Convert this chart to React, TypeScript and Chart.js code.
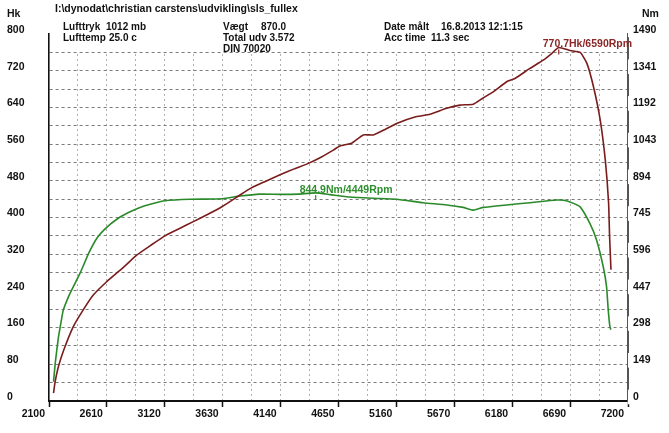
import React, { useEffect, useRef } from 'react';
import { Chart, registerables } from 'chart.js';

Chart.register(...registerables);

// ---- data read from the dyno sheet ----
const powerRpm = [2140, 2152, 2182, 2230, 2314, 2400, 2490, 2608, 2750, 2872, 3000, 3122, 3250, 3371, 3500, 3626, 3782, 3879, 4000, 4135, 4260, 4384, 4500, 4604, 4663, 4766, 4868, 4956, 5060, 5162, 5338, 5455, 5602, 5720, 5837, 5920, 6013, 6131, 6204, 6336, 6453, 6530, 6590, 6691, 6779, 6838, 6896, 6955, 7000, 7029, 7038, 7050];
const powerHk = [17, 39, 74, 111, 162, 198, 231, 260, 290, 318, 340, 360, 376, 391, 407, 424, 449, 464, 478, 493, 506, 518, 532, 547, 556, 562, 580, 580, 592, 605, 620, 625, 638, 645, 647, 660, 674, 696, 703, 725, 743, 758, 770.7, 764, 760, 736, 685, 613, 525, 432, 358, 286];

const torqueRpm = [2140, 2155, 2182, 2210, 2226, 2285, 2373, 2450, 2520, 2608, 2710, 2800, 2901, 3000, 3122, 3342, 3626, 3782, 3958, 4135, 4296, 4449, 4575, 4750, 4956, 5162, 5396, 5602, 5749, 5837, 5925, 6131, 6336, 6571, 6659, 6776, 6864, 6923, 6982, 7011, 7026, 7041, 7050];
const torqueNm = [78, 154, 255, 330, 369, 437, 518, 600, 660, 705, 742, 765, 786, 800, 813, 819, 821, 832, 840, 839, 840, 844.9, 838, 828, 823, 819, 805, 796, 786, 775, 786, 796, 805, 816, 813, 789, 721, 654, 545, 464, 369, 300, 290];

const rpmTickLabels = [2100, 2610, 3120, 3630, 4140, 4650, 5160, 5670, 6180, 6690, 7200];
const hkTickLabels = [0, 80, 160, 240, 320, 400, 480, 560, 640, 720, 800];
const nmTickLabels = [0, 149, 298, 447, 596, 745, 894, 1043, 1192, 1341, 1490];

const peakPowerRpm = 6590;
const peakPowerHk = 770.7;
const peakPowerLabel = '770.7Hk/6590Rpm';
const peakTorqueRpm = 4449;
const peakTorqueNm = 844.9;
const peakTorqueLabel = '844.9Nm/4449Rpm';

const FAMILY = '"Liberation Sans", Arial, sans-serif';
const RED = '#7a1c1c';
const RED_TXT = '#8c2626';
const GREEN = '#2a8a2a';
const GREEN_TXT = '#2f8f2f';
const GRID_H = '#7a7a7a';
const GRID_V = '#b0b0b0';

const tickFont = { family: FAMILY, size: 10.5, weight: 'bold' as const };

const Txt = ({ x, y, size = 10, color = '#111', children }: { x: number; y: number; size?: number; color?: string; children: React.ReactNode }) => (
  <div
    style={{
      position: 'absolute',
      left: x,
      top: y - 6,
      lineHeight: '12px',
      font: `bold ${size}px ${FAMILY}`,
      color,
      whiteSpace: 'pre',
    }}
  >
    {children}
  </div>
);

export default function App() {
  const ref = useRef<HTMLCanvasElement | null>(null);

  useEffect(() => {
    document.body.style.margin = '0';
    const canvas = ref.current;
    if (!canvas) return;

    const peakPlugin = {
      id: 'peaks',
      beforeDatasetsDraw(chart: any) {
        const { ctx, chartArea, scales } = chart;
        const yCut = scales.y.getPixelForValue(760);
        ctx.save();
        ctx.fillStyle = '#ffffff';
        ctx.fillRect(chartArea.left + 1, chartArea.top - 1, chartArea.right - chartArea.left - 2.5, yCut - chartArea.top);
        ctx.restore();
      },
      afterDatasetsDraw(chart: any) {
        const { ctx, scales } = chart;
        const items = [
          { x: scales.x.getPixelForValue(peakPowerRpm), y: scales.y.getPixelForValue(peakPowerHk), label: peakPowerLabel, color: RED_TXT },
          { x: scales.x.getPixelForValue(peakTorqueRpm), y: scales.y2.getPixelForValue(peakTorqueNm), label: peakTorqueLabel, color: GREEN_TXT },
        ];
        ctx.save();
        ctx.font = `bold 10.5px ${FAMILY}`;
        ctx.textBaseline = 'alphabetic';
        ctx.textAlign = 'left';
        for (const it of items) {
          ctx.fillStyle = it.color;
          ctx.fillText(it.label, it.x - 16, it.y);
          ctx.strokeStyle = it.color;
          ctx.lineWidth = 1.2;
          ctx.beginPath();
          ctx.moveTo(it.x, it.y + 2);
          ctx.lineTo(it.x, it.y + 7);
          ctx.stroke();
        }
        ctx.restore();
      },
    };

    const chart = new Chart(canvas, {
      type: 'line',
      data: {
        datasets: [
          {
            label: 'Hk',
            data: powerRpm.map((r, i) => ({ x: r, y: powerHk[i] })),
            borderColor: RED,
            borderWidth: 1.6,
            pointRadius: 0,
            tension: 0.15,
            yAxisID: 'y',
          },
          {
            label: 'Nm',
            data: torqueRpm.map((r, i) => ({ x: r, y: torqueNm[i] })),
            borderColor: GREEN,
            borderWidth: 1.6,
            pointRadius: 0,
            tension: 0.15,
            yAxisID: 'y2',
          },
        ],
      },
      options: {
        animation: false,
        responsive: false,
        maintainAspectRatio: false,
        layout: { padding: { left: 7, top: 34, right: 0, bottom: 0 } },
        plugins: { legend: { display: false }, tooltip: { enabled: false }, title: { display: false } },
        scales: {
          x: {
            type: 'linear',
            min: 2100,
            max: 7200,
            afterFit: (s: any) => { s.height = 32; },
            ticks: {
              stepSize: 255,
              autoSkip: false,
              maxRotation: 0,
              minRotation: 0,
              align: 'end',
              labelOffset: -4,
              padding: 1,
              color: '#111',
              font: tickFont,
              callback: (v: any) => (rpmTickLabels.includes(Math.round(Number(v))) ? String(Math.round(Number(v))) : ''),
            },
            grid: {
              color: (c: any) => {
                const v = Math.round(c.tick?.value ?? 0);
                return v === 2100 || v === 7200 ? 'rgba(0,0,0,0)' : GRID_V;
              },
              lineWidth: 1,
              drawTicks: true,
              tickLength: 6,
              tickWidth: 1.5,
              tickColor: (c: any) => (rpmTickLabels.includes(Math.round(c.tick?.value ?? 0)) ? '#111' : 'rgba(0,0,0,0)'),
            },
            border: { display: true, color: '#111', width: 2, dash: [2, 3] },
          },
          y: {
            type: 'linear',
            position: 'left',
            min: 0,
            max: 800,
            afterFit: (s: any) => { s.width = 42; },
            ticks: {
              stepSize: 40,
              autoSkip: false,
              crossAlign: 'far',
              labelOffset: -4,
              color: '#111',
              font: tickFont,
              callback: (v: any) => (hkTickLabels.includes(Math.round(Number(v))) ? String(Math.round(Number(v))) : ''),
            },
            grid: {
              color: (c: any) => {
                const v = Math.round(c.tick?.value ?? 0);
                return v === 0 || v === 800 ? 'rgba(0,0,0,0)' : GRID_H;
              },
              lineWidth: 1,
              drawTicks: false,
            },
            border: { display: true, color: '#111', width: 1.6, dash: [3, 3] },
          },
          y2: {
            type: 'linear',
            position: 'right',
            min: 0,
            max: 1490,
            afterFit: (s: any) => { s.width = 41; },
            ticks: {
              stepSize: 149,
              autoSkip: false,
              crossAlign: 'near',
              labelOffset: -4,
              padding: 5,
              color: '#111',
              font: tickFont,
              showLabelBackdrop: true,
              backdropColor: '#ffffff',
              backdropPadding: { top: 1, bottom: 1, left: 7, right: 1 },
              callback: (v: any) => (nmTickLabels.includes(Math.round(Number(v))) ? String(Math.round(Number(v))) : ''),
            },
            grid: { display: false, drawTicks: false },
            border: { display: true, color: '#555', width: 2 },
          },
        },
      } as any,
      plugins: [peakPlugin],
    });

    return () => chart.destroy();
  }, []);

  return (
    <div style={{ position: 'relative', width: 669, height: 433, background: '#fff' }}>
      <canvas ref={ref} width={669} height={433} style={{ display: 'block', width: 669, height: 433 }} />
      <Txt x={55} y={8} size={10.5}>{'I:\\dynodat\\christian carstens\\udvikling\\sls_fullex'}</Txt>
      <Txt x={7} y={13} size={10.5}>Hk</Txt>
      <Txt x={642} y={13} size={10.5}>Nm</Txt>
      <Txt x={63} y={27}>Lufttryk</Txt>
      <Txt x={106} y={27}>1012 mb</Txt>
      <Txt x={63} y={38}>Lufttemp</Txt>
      <Txt x={109} y={38}>25.0 c</Txt>
      <Txt x={223} y={27}>Vægt</Txt>
      <Txt x={261} y={27}>870.0</Txt>
      <Txt x={223} y={38}>Total udv 3.572</Txt>
      <Txt x={223} y={49}>DIN 70020</Txt>
      <Txt x={384} y={27}>Date målt</Txt>
      <Txt x={441} y={27}>16.8.2013 12:1:15</Txt>
      <Txt x={384} y={38}>Acc time</Txt>
      <Txt x={431} y={38}>11.3 sec</Txt>
    </div>
  );
}
